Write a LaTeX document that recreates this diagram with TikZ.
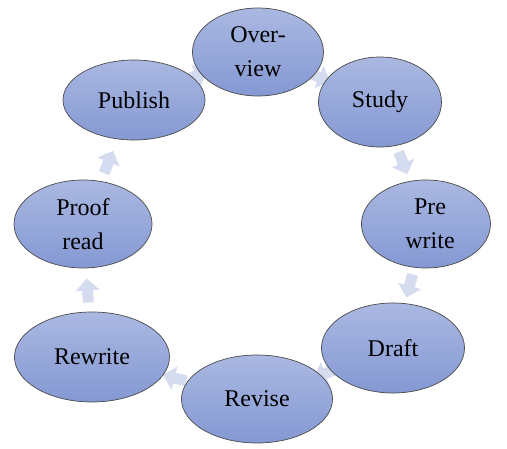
\documentclass[tikz,border=0pt]{standalone}
\usepackage{fontspec}
\setmainfont{Liberation Serif}
\usetikzlibrary{shapes.geometric,calc}
\pgfdeclarelayer{background}
\pgfsetlayers{background,main}
\definecolor{elltop}{HTML}{AAB8E1}
\definecolor{ellbot}{HTML}{8498D3}
\definecolor{ellline}{HTML}{4A4A4A}
\definecolor{arrfill}{HTML}{D5DCEF}
\tikzset{
  stage/.style={ellipse, draw=ellline, line width=0.7pt, top color=elltop, bottom color=ellbot,
    inner sep=0pt, align=center, font=\fontsize{24}{34}\selectfont},
  blockarrow/.pic={\fill[arrfill] (-12pt,-5.5pt) -- (0pt,-5.5pt) -- (0pt,-12pt) -- (12pt,0pt)
      -- (0pt,12pt) -- (0pt,5.5pt) -- (-12pt,5.5pt) -- cycle;}
}
\newcommand{\cyclearrow}[2]{%
  \path let \p1=($(#2)-(#1)$), \n1={atan2(\y1,\x1)} in
    ($(#1)!0.5!(#2)$) pic[rotate=\n1]{blockarrow};}
\begin{document}
\begin{tikzpicture}[x=1pt,y=-1pt]
\useasboundingbox (0,0) rectangle (507,449);
\node[stage, minimum width=131pt, minimum height=88pt] (ovr) at (258,52) {Over-\\view};
\node[stage, minimum width=123pt, minimum height=90pt] (stu) at (380,102) {Study};
\node[stage, minimum width=129pt, minimum height=88pt] (pre) at (426,224) {\hspace*{8pt}Pre\\\hspace*{8pt}write};
\node[stage, minimum width=143pt, minimum height=90pt] (dra) at (393,348) {Draft};
\node[stage, minimum width=151pt, minimum height=88pt] (rev) at (257,399) {Revise};
\node[stage, minimum width=155pt, minimum height=90pt] (rew) at (92,357) {Rewrite};
\node[stage, minimum width=138pt, minimum height=88pt] (prf) at (83,224) {Proof\\read};
\node[stage, minimum width=142pt, minimum height=80pt] (pub) at (134,100) {Publish};
\begin{pgfonlayer}{background}
\cyclearrow{pub}{ovr}
\cyclearrow{ovr}{stu}
\cyclearrow{stu}{pre}
\cyclearrow{pre}{dra}
\cyclearrow{dra}{rev}
\cyclearrow{rev}{rew}
\cyclearrow{rew}{prf}
\cyclearrow{prf}{pub}
\end{pgfonlayer}
\end{tikzpicture}
\end{document}
